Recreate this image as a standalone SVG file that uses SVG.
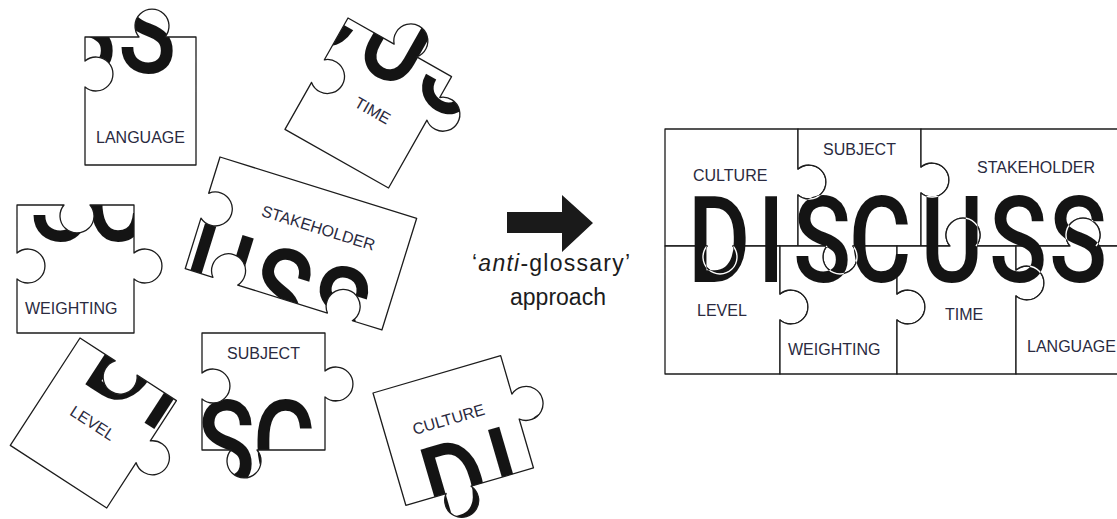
<svg xmlns="http://www.w3.org/2000/svg" xmlns:xlink="http://www.w3.org/1999/xlink" width="1117" height="519" viewBox="0 0 1117 519">
  <style>
    .pc { fill: #ffffff; stroke: none; }
    .edge { fill: none; stroke: #1c1c1c; stroke-width: 1.3; stroke-linejoin: round; }
    .knob { fill: none; stroke: #ffffff; stroke-width: 1.4; }
    .lbl { font-family: "Liberation Sans", Arial, sans-serif; font-size: 16px; fill: #2a2a40; }
    .word { font-family: Roboto, "Liberation Sans", Arial, sans-serif; font-weight: 500; font-size: 120px; fill: #141414; text-anchor: middle; }
    .cap { font-family: "Liberation Sans", Arial, sans-serif; font-size: 23px; fill: #1c1c1c; text-anchor: middle; }
  </style>
  <defs>
    <!-- piece outlines, all drawn in the coordinates of the finished puzzle -->
    <path id="p-culture" d="M665,129 H798 V169 A17,17 0 1 1 798,195 V246 H733 A17,17 0 1 1 707,246 H665 Z"/>
    <path id="p-subject" d="M798,129 H921 V167 A17,17 0 1 1 921,193 V246 H853 A17,17 0 1 1 827,246 H798 V195 A17,17 0 1 0 798,169 Z"/>
    <path id="p-stakeholder" d="M921,129 H1127 V246 H1096 A17,17 0 1 0 1070,246 H976 A17,17 0 1 0 950,246 H921 V193 A17,17 0 1 0 921,167 Z"/>
    <path id="p-level" d="M665,246 H707 A17,17 0 1 0 733,246 H780 V294 A17,17 0 1 1 780,320 V374 H665 Z"/>
    <path id="p-weighting" d="M780,246 H827 A17,17 0 1 0 853,246 H897 V294 A17,17 0 1 1 897,320 V374 H780 V320 A17,17 0 1 0 780,294 Z"/>
    <path id="p-time" d="M897,246 H950 A17,17 0 1 1 976,246 H1016 V270 A17,17 0 1 1 1016,296 V374 H897 V320 A17,17 0 1 0 897,294 Z"/>
    <path id="p-language" d="M1016,246 H1070 A17,17 0 1 1 1096,246 H1127 V374 H1016 V296 A17,17 0 1 0 1016,270 Z"/>

    <!-- the round knobs alone, used to cut thin gaps through the lettering -->
    <path id="knobs" d="M798,169 A17,17 0 1 1 798,195 M921,167 A17,17 0 1 1 921,193 M733,246 A17,17 0 1 1 707,246 M853,246 A17,17 0 1 1 827,246 M950,246 A17,17 0 1 1 976,246 M1070,246 A17,17 0 1 1 1096,246 M780,294 A17,17 0 1 1 780,320 M897,294 A17,17 0 1 1 897,320 M1016,270 A17,17 0 1 1 1016,296"/>

    <clipPath id="c-culture"><use xlink:href="#p-culture"/></clipPath>
    <clipPath id="c-subject"><use xlink:href="#p-subject"/></clipPath>
    <clipPath id="c-stakeholder"><use xlink:href="#p-stakeholder"/></clipPath>
    <clipPath id="c-level"><use xlink:href="#p-level"/></clipPath>
    <clipPath id="c-weighting"><use xlink:href="#p-weighting"/></clipPath>
    <clipPath id="c-time"><use xlink:href="#p-time"/></clipPath>
    <clipPath id="c-language"><use xlink:href="#p-language"/></clipPath>
    <clipPath id="c-word"><use xlink:href="#word"/></clipPath>

    <!-- the word printed across the finished puzzle -->
    <text id="word" class="word" transform="scale(0.8,1)" y="282"><tspan x="898.75">D</tspan><tspan x="963.75">I</tspan><tspan x="1027.5">S</tspan><tspan x="1100">C</tspan><tspan x="1190">U</tspan><tspan x="1272.5">S</tspan><tspan x="1347.5">S</tspan></text>
  </defs>

  <!-- loose pieces -->
  <g id="loose-language" transform="translate(85,37) translate(-1016,-246)">
    <use xlink:href="#p-language" class="pc"/>
    <g clip-path="url(#c-language)"><use xlink:href="#word"/></g>
    <use xlink:href="#p-language" class="edge"/>
    <text class="lbl" x="1027" y="352">LANGUAGE</text>
  </g>
  <g id="loose-time" transform="translate(348,18) rotate(29.5) translate(-897,-246)">
    <use xlink:href="#p-time" class="pc"/>
    <g clip-path="url(#c-time)"><use xlink:href="#word"/></g>
    <use xlink:href="#p-time" class="edge"/>
    <text class="lbl" x="945" y="320">TIME</text>
  </g>
  <g id="loose-stakeholder" transform="translate(220,157) rotate(17.3) translate(-921,-129)">
    <use xlink:href="#p-stakeholder" class="pc"/>
    <g clip-path="url(#c-stakeholder)"><use xlink:href="#word"/></g>
    <use xlink:href="#p-stakeholder" class="edge"/>
    <text class="lbl" x="977" y="173">STAKEHOLDER</text>
  </g>
  <g id="loose-weighting" transform="translate(17,205) translate(-780,-246)">
    <use xlink:href="#p-weighting" class="pc"/>
    <g clip-path="url(#c-weighting)"><use xlink:href="#word"/></g>
    <use xlink:href="#p-weighting" class="edge"/>
    <text class="lbl" x="788" y="355">WEIGHTING</text>
  </g>
  <g id="loose-level" transform="translate(80,338) rotate(33) translate(-665,-246)">
    <use xlink:href="#p-level" class="pc"/>
    <g clip-path="url(#c-level)"><use xlink:href="#word"/></g>
    <use xlink:href="#p-level" class="edge"/>
    <text class="lbl" x="697" y="316">LEVEL</text>
  </g>
  <g id="loose-subject" transform="translate(202,333) translate(-798,-129)">
    <use xlink:href="#p-subject" class="pc"/>
    <g clip-path="url(#c-subject)"><use xlink:href="#word"/></g>
    <use xlink:href="#p-subject" class="edge"/>
    <text class="lbl" x="823" y="155">SUBJECT</text>
  </g>
  <g id="loose-culture" transform="translate(373,393) rotate(-16.3) translate(-665,-129)">
    <use xlink:href="#p-culture" class="pc"/>
    <g clip-path="url(#c-culture)"><use xlink:href="#word"/></g>
    <use xlink:href="#p-culture" class="edge"/>
    <text class="lbl" x="693" y="181">CULTURE</text>
  </g>

  <!-- arrow and caption -->
  <g id="connectors">
    <path d="M507,212 H562 V195 L593,223 L562,252 V233 H507 Z" fill="#1a1a1a"/>
  </g>
  <g id="caption">
    <text class="cap" x="551" y="271" textLength="158" lengthAdjust="spacing">‘<tspan font-style="italic">anti</tspan>-glossary’</text>
    <text class="cap" x="558" y="305">approach</text>
  </g>

  <!-- finished puzzle -->
  <g id="puzzle">
    <g id="culture"><use xlink:href="#p-culture" class="pc"/><use xlink:href="#p-culture" class="edge"/><text class="lbl" x="693" y="181">CULTURE</text></g>
    <g id="subject"><use xlink:href="#p-subject" class="pc"/><use xlink:href="#p-subject" class="edge"/><text class="lbl" x="823" y="155">SUBJECT</text></g>
    <g id="stakeholder"><use xlink:href="#p-stakeholder" class="pc"/><use xlink:href="#p-stakeholder" class="edge"/><text class="lbl" x="977" y="173">STAKEHOLDER</text></g>
    <g id="level"><use xlink:href="#p-level" class="pc"/><use xlink:href="#p-level" class="edge"/><text class="lbl" x="697" y="316">LEVEL</text></g>
    <g id="weighting"><use xlink:href="#p-weighting" class="pc"/><use xlink:href="#p-weighting" class="edge"/><text class="lbl" x="788" y="355">WEIGHTING</text></g>
    <g id="time"><use xlink:href="#p-time" class="pc"/><use xlink:href="#p-time" class="edge"/><text class="lbl" x="945" y="320">TIME</text></g>
    <g id="language"><use xlink:href="#p-language" class="pc"/><use xlink:href="#p-language" class="edge"/><text class="lbl" x="1027" y="352">LANGUAGE</text></g>
    <use xlink:href="#word"/>
    <g clip-path="url(#c-word)"><use xlink:href="#knobs" class="knob"/></g>
  </g>
</svg>
